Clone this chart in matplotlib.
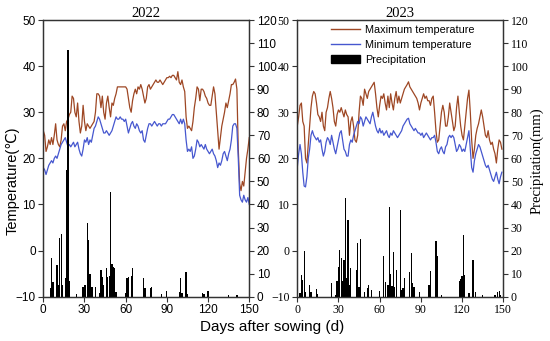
import matplotlib
matplotlib.use("Agg")
import matplotlib.pyplot as plt
from matplotlib.patches import Patch
from matplotlib.lines import Line2D

# ---------------- data ----------------
days_2022 = list(range(0, 151))
tmax_2022 = [26, 25, 21.5, 22.5, 24, 23, 24.5, 23, 25, 27.5,
             24, 23, 22.5, 24, 27, 27.5, 26, 28, 28.5, 29.5,
             30, 33.5, 33, 30, 29, 32, 28, 25.5, 27, 31.5,
             28, 26, 27.5, 27, 26.5, 27, 27.5, 28, 30, 34,
             34, 33.5, 31, 33.5, 30, 28.5, 32, 33.5, 31, 29,
             32, 31.5, 33, 34, 35.5, 35.5, 35.5, 35.5, 35.5, 35.5,
             35.5, 35, 33, 31, 30, 32.5, 34, 35, 34, 35.5,
             35, 36, 35, 33.5, 32, 33, 35.5, 36, 35, 35.5,
             36, 36.5, 37, 36.5, 36.5, 37, 36.5, 36, 36.5, 37,
             37.5, 37.5, 37.8, 37.5, 38, 38, 37.5, 37, 38.8, 36.5,
             36, 37, 35.5, 34.5, 29, 26.5, 27, 26.5, 26, 28,
             31, 33, 35.5, 35, 32.5, 35, 35, 34.5, 33.5, 33,
             32, 31.5, 31.5, 33.5, 35.5, 34, 30, 26, 22, 24.5,
             27, 28.5, 30, 32, 31, 32.5, 34, 36, 36, 36.5,
             37.2, 35, 22, 14.5, 13, 15, 14, 17, 20, 22, 24.5]
tmin_2022 = [18, 17.5, 16.5, 17.5, 18.5, 19, 19.5, 19, 20, 20.5,
             20, 21, 22, 23, 23.5, 24, 24.5, 23.5, 22.5, 23,
             22.5, 23, 23.5, 22.5, 23, 23.5, 22, 21, 20.5, 22,
             24, 23.5, 24.5, 23, 24, 23.5, 25, 26.5, 27, 28,
             29, 28.5, 27.5, 26.5, 25.5, 25.5, 26, 25.5, 25, 25.5,
             26, 27, 28, 29, 28.5, 28.5, 29, 28.5, 28.5, 28,
             28.5, 27, 25.5, 26.5, 27.5, 28, 27, 26.5, 27.5, 27,
             26, 25.5, 26, 24, 23.5, 25, 26.5, 27.5, 27.5, 27,
             27.5, 28, 27.5, 27, 27.5, 27.5, 27, 27.5, 27.5, 27.5,
             28, 28.5, 28.5, 29, 29.5, 29.5, 29, 28.5, 28, 27.5,
             28.5, 27.5, 28.5, 27.5, 24, 21.5, 22, 21.5, 22.5, 20,
             20.5, 22, 24, 23.5, 22.5, 23, 22.5, 22, 23, 22,
             21.5, 21, 21.5, 22, 21, 20.5, 19.5, 18, 19, 18.5,
             19.5, 21, 21.5, 20.5, 19.5, 21, 22, 24, 27, 27.5,
             27.5, 26.5, 20, 12, 11, 10.5, 12, 11, 10.5, 11.5, 10]
rain_days_2022 = [5, 6, 7, 10, 11, 12, 13, 14, 16, 17, 18, 19, 24,
                  29, 30, 31, 32, 33, 34, 35, 36, 38,
                  41, 42, 43, 44, 46, 47, 48, 49, 50, 51, 52, 53,
                  60, 61, 62, 64, 65,
                  73, 74, 78, 79, 86, 90, 99, 100, 101, 104, 105,
                  116, 117, 120, 135, 141]
rain_2022 = [3.6, 16.6, 6.5, 13.7, 5, 25.3, 27.2, 5, 8, 55, 107, 7, 1,
             4, 5, 5, 31.8, 24.6, 10, 4, 4, 4,
             1.5, 11.6, 8.6, 5, 12.3, 8.6, 9, 45.5, 14, 13, 12.5, 2,
             1.5, 8, 8.5, 9, 12.4,
             8, 3.6, 3.6, 4, 1.2, 2.6, 2, 8, 1.8, 10.8, 1,
             1.7, 1, 2.6, 0.8, 0.8]

days_2023 = list(range(0, 150))
tmax_2023 = [27, 29, 31.5, 32, 28, 27, 20, 19, 23, 27,
             31, 33.5, 34.5, 34, 32, 29.5, 29, 28, 30, 27,
             26, 30, 31, 33, 34.5, 33, 31, 28, 27, 29.5,
             30.5, 30, 31, 30, 29, 30.5, 29.5, 29, 25, 28,
             29, 27, 24, 23.5, 25, 30, 33.5, 33, 31.5, 35,
             34, 33, 34.5, 35, 35.5, 36, 36.5, 34, 31, 29,
             31.5, 33.5, 33, 34, 32, 30.5, 33.5, 31, 34, 32,
             30.5, 33, 34.5, 32, 33.5, 32, 33, 34, 35, 35.5,
             36, 36.6, 35.5, 35, 34.5, 34, 33.5, 33, 32, 30.5,
             32, 33, 34, 33, 33.5, 32.5, 32.5, 31.5, 33, 33.5,
             30, 26, 23.5, 24, 27, 30, 31.5, 30, 27, 27,
             29, 32, 30, 28, 26, 27, 31, 33.5, 30, 27,
             25, 24, 27, 30, 33, 34.8, 30, 24, 20, 22,
             25, 26.5, 27.5, 29, 30.5, 29, 27, 25, 24.5, 26,
             24, 23, 23.5, 22, 21, 19, 22, 24, 23.5, 22]
tmin_2023 = [18, 21, 23, 21, 17, 14, 13.8, 16, 20, 22,
             25, 26, 25, 24.5, 24, 24.5, 23.5, 24, 22, 20.5,
             21.5, 23.5, 24.5, 24, 23, 25, 23.5, 22, 21, 22.5,
             24, 25.5, 26, 24, 22, 21.5, 20.5, 20.5, 23, 24,
             23.5, 25, 26, 27, 28, 27.5, 29, 28.5, 27, 28,
             29, 28.5, 28, 27.5, 29, 30, 28.5, 27, 26, 25.5,
             26.5, 25.5, 26, 25, 25.5, 26, 25, 24.5, 25.5, 25,
             26, 25.5, 25, 24.5, 25, 25.5, 26, 27, 27.5, 28,
             28.5, 28.7, 27.5, 27, 26.5, 26, 26.5, 26, 25.5, 25.5,
             25, 25.5, 24.5, 25, 25.5, 25, 24.5, 24, 24.5, 24.5,
             25, 23.5, 21.5, 21, 22, 22.5, 21.5, 21, 22.5, 23,
             24.5, 25, 24.5, 25, 24.5, 23, 21.5, 22, 23, 22.5,
             21.5, 22, 21.5, 23, 24.5, 26, 22, 18, 17, 19.5,
             21, 22, 23, 22.5, 21.5, 20.5, 19.5, 18.5, 18, 18.5,
             17.5, 16.5, 15.5, 15, 16, 17, 15.5, 14.5, 16, 17]
rain_days_2023 = [2, 3, 4, 5, 6, 9, 10, 14, 15, 25, 28,
                  29, 30, 31, 32, 33, 34, 35, 36, 37, 38, 39,
                  43, 44, 45, 46, 49, 51, 52, 54,
                  60, 63, 64, 66, 67, 68, 69, 70, 71, 72,
                  75, 76, 77, 78, 82, 83, 84, 85, 89, 96, 97,
                  101, 102, 105, 118, 119, 120, 121, 122,
                  125, 128, 130, 135, 144, 146, 147, 148]
rain_2023 = [1.6, 9.4, 7.2, 19.8, 2, 5, 2, 3.5, 1, 6, 0.8,
             7, 13, 20.2, 16.6, 7, 16, 43, 8, 33.3, 5, 12.4,
             11.5, 23.4, 4.3, 24.9, 2, 3.6, 5, 3,
             2.3, 17.6, 6.5, 5, 39, 10, 4.6, 19.5, 4.3, 11.5,
             37.6, 2.9, 3.6, 8, 10.8, 18.8, 6, 4.3, 2, 5, 11,
             24.3, 17.6, 0.8, 7, 7.5, 9, 26.8, 9.4,
             1.4, 16, 2, 0.8, 0.8, 2, 2.3, 0.8]

year_titles = ["2022", "2023"]
temp_ticks = [-10, 0, 10, 20, 30, 40, 50]
rain_ticks = [0, 10, 20, 30, 40, 50, 60, 70, 80, 90, 100, 110, 120]
day_ticks = [0, 30, 60, 90, 120, 150]

# ---------------- styles ----------------
C_MAX = "#9E4724"
C_MIN = "#4657CF"
SANS = ["Liberation Sans", "DejaVu Sans"]
SERIF = ["Liberation Serif", "DejaVu Serif"]
SPINE = "#333333"

fig = plt.figure(figsize=(5.5, 3.41), dpi=100)

panels = [
    (0.0787, days_2022, tmax_2022, tmin_2022, rain_days_2022, rain_2022, SANS),
    (0.5405, days_2023, tmax_2023, tmin_2023, rain_days_2023, rain_2023, SERIF),
]

for i, (left, d, tmx, tmn, rd, rv, tfam) in enumerate(panels):
    ax = fig.add_axes([left, 0.1299, 0.3745, 0.8114])
    axp = ax.twinx()
    ax.plot(d, tmx, color=C_MAX, lw=0.9)
    ax.plot(d, tmn, color=C_MIN, lw=0.9)
    axp.bar(rd, rv, width=0.9, color="black", linewidth=0)
    ax.set_xlim(0, 150)
    ax.set_ylim(-10, 50)
    axp.set_ylim(0, 120)
    ax.set_xticks(day_ticks)
    ax.set_yticks(temp_ticks)
    axp.set_yticks(rain_ticks)
    for a in (ax, axp):
        for s in a.spines.values():
            s.set_color(SPINE)
            s.set_linewidth(0.9)
        a.tick_params(direction="out", length=3.5, width=0.8, color=SPINE,
                      labelsize=8.5, pad=2)
    for lab in ax.get_xticklabels() + ax.get_yticklabels() + axp.get_yticklabels():
        lab.set_family(tfam)
    ax.set_title(year_titles[i], family=SERIF, fontsize=10.5, pad=1)

    if i == 1:
        handles = [Line2D([0], [0], color=C_MAX, lw=1),
                   Line2D([0], [0], color=C_MIN, lw=1),
                   Patch(facecolor="black", edgecolor="black")]
        labels = ["Maximum temperature", "Minimum temperature", "Precipitation"]
        ax.legend(handles, labels, loc="upper left", bbox_to_anchor=(0.13, 1.005),
                  frameon=False, prop={"family": SANS, "size": 7.8},
                  handlelength=2.7, handletextpad=0.5, labelspacing=0.45,
                  borderaxespad=0.2)

fig.text(0.022, 0.47, "Temperature(\u2103)", rotation=90, va="center", ha="center",
         family=SANS, fontsize=10.5)
fig.text(0.977, 0.53, "Precipitation(mm)", rotation=90, va="center", ha="center",
         family=SERIF, fontsize=10.5)
fig.text(0.495, 0.04, "Days after sowing (d)", va="center", ha="center",
         family=SANS, fontsize=11)

fig.savefig("out.png", dpi=100)
